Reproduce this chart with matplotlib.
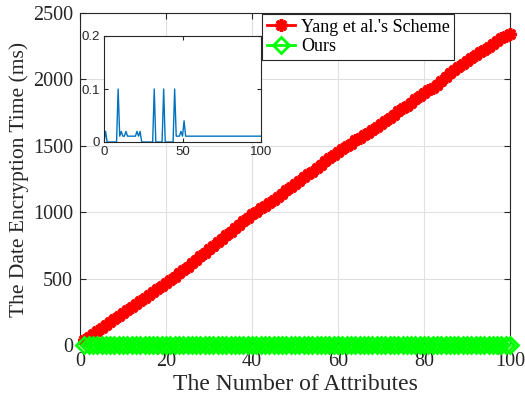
import matplotlib
matplotlib.use("Agg")
import matplotlib.pyplot as plt

attributes = list(range(1, 101))
yang_ms = [35, 58, 80, 104, 125, 150, 172, 195, 218, 240,
           262, 283, 305, 330, 352, 374, 398, 420, 442, 465,
           490, 515, 540, 565, 590, 615, 642, 668, 694, 720,
           746, 772, 798, 825, 850, 878, 905, 930, 958, 985,
           1005, 1028, 1050, 1072, 1095, 1118, 1140, 1165, 1188, 1210,
           1232, 1262, 1285, 1305, 1330, 1352, 1385, 1405, 1430, 1455,
           1475, 1495, 1515, 1540, 1560, 1580, 1600, 1620, 1640, 1662,
           1685, 1710, 1735, 1760, 1782, 1800, 1822, 1850, 1875, 1900,
           1918, 1935, 1955, 1985, 2020, 2045, 2070, 2095, 2118, 2140,
           2160, 2182, 2205, 2225, 2245, 2268, 2290, 2310, 2328, 2345]

inset_x = list(range(0, 101))
ours_ms = [0.0, 0.02, 0.0, 0.0, 0.0, 0.0, 0.0, 0.0, 0.0, 0.1,
           0.011, 0.02, 0.011, 0.011, 0.02, 0.011, 0.011, 0.011, 0.011, 0.011,
           0.011, 0.02, 0.011, 0.02, 0.0, 0.0, 0.0, 0.0, 0.0, 0.0,
           0.0, 0.0, 0.1, 0.0, 0.0, 0.0, 0.0, 0.0, 0.1, 0.0,
           0.0, 0.0, 0.0, 0.0, 0.0, 0.1, 0.011, 0.011, 0.011, 0.02,
           0.011, 0.04, 0.011] + [0.011] * 48

xticks = [0, 20, 40, 60, 80, 100]
yticks = [0, 500, 1000, 1500, 2000, 2500]
inset_xticks = [0, 50, 100]
inset_yticks = [0, 0.1, 0.2]

serif = ["Liberation Serif", "DejaVu Serif"]
axcol = "#262626"

fig = plt.figure(figsize=(5.25, 4.03), dpi=100)
ax = fig.add_axes([80/525, 1-345/403, 430/525, 332/403])

ax.plot(attributes, yang_ms, color="#FF0000", lw=2, marker=(8, 2, 0), ms=9, mew=2.5,
        label="Yang et al.'s Scheme", clip_on=False, zorder=3)
ax.plot(attributes, ours_ms[1:], color="#00FF00", lw=2, marker="D", ms=8, mew=2,
        mfc="none", label="Ours", clip_on=False, zorder=3)

ax.set_xlim(0, 100)
ax.set_ylim(0, 2500)
ax.set_xticks(xticks)
ax.set_yticks(yticks)
ax.grid(True, color="#E0E0E0", lw=0.8)
ax.set_axisbelow(True)
ax.tick_params(direction="in", top=True, right=True, length=4, color=axcol, pad=5)
for lab in ax.get_xticklabels() + ax.get_yticklabels():
    lab.set_fontfamily(serif)
    lab.set_fontsize(14.5)
    lab.set_color(axcol)
for s in ax.spines.values():
    s.set_color(axcol)
    s.set_linewidth(0.8)
ax.set_xlabel("The Number of Attributes", fontfamily=serif, fontsize=17, color=axcol, labelpad=2)
ax.set_ylabel("The Date Encryption Time (ms)", fontfamily=serif, fontsize=15.5, color=axcol, labelpad=3)

leg = ax.legend(loc="upper left", bbox_to_anchor=((262-80)/430, (345-14)/332),
                prop={"family": serif, "size": 13}, frameon=True, fancybox=False,
                edgecolor=axcol, framealpha=1, borderpad=0.25, handlelength=1.6,
                handletextpad=0.3, labelspacing=0.15, borderaxespad=0)
leg.get_frame().set_linewidth(0.8)

ins = fig.add_axes([104/525, 1-142/403, 157/525, 106/403])
ins.plot(inset_x, ours_ms, color="#0072BD", lw=1)
ins.set_xlim(0, 100)
ins.set_ylim(0, 0.2)
ins.set_xticks(inset_xticks)
ins.set_yticks(inset_yticks)
ins.set_yticklabels(["0", "0.1", "0.2"])
ins.tick_params(direction="in", top=True, right=True, length=3, color=axcol, labelsize=9.5,
                labelcolor=axcol, pad=3)
for lab in ins.get_xticklabels() + ins.get_yticklabels():
    lab.set_fontfamily(["Liberation Sans", "DejaVu Sans"])
for s in ins.spines.values():
    s.set_color(axcol)
    s.set_linewidth(0.8)

fig.savefig("out.png", dpi=100)
